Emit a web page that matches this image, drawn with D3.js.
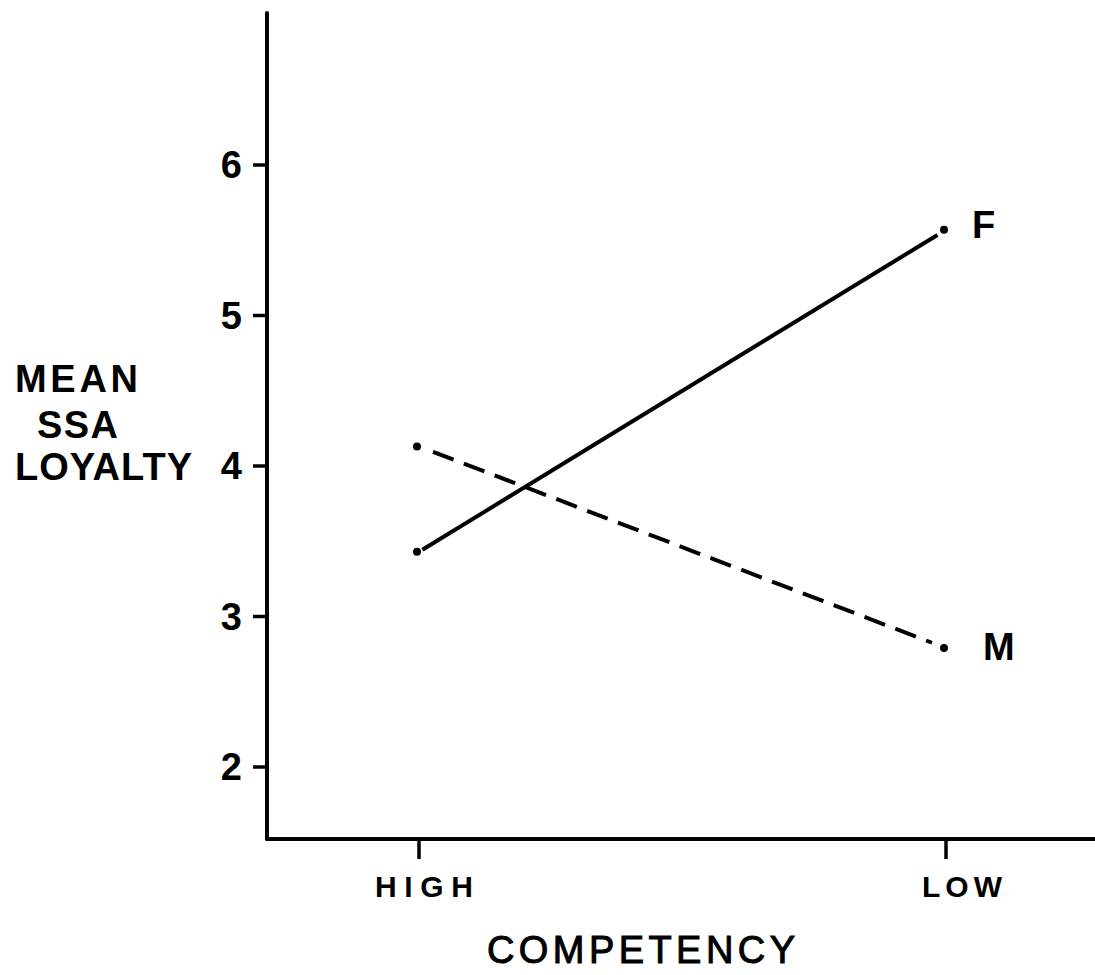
<!DOCTYPE html>
<html>
<head>
<meta charset="utf-8">
<script src="https://cdn.jsdelivr.net/npm/d3@7"></script>
<style>
  body { margin: 0; background: #fff; }
  text { font-family: "Liberation Sans", Arial, sans-serif; fill: #000; }
</style>
</head>
<body>
<div id="chart"></div>
<script>
// data
const levels = ["HIGH", "LOW"];
const femaleVals = [3.43, 5.57];
const maleVals = [4.13, 2.79];
const yTicks = [2, 3, 4, 5, 6];

const W = 1095, H = 975;

const svg = d3.select("#chart").append("svg")
    .attr("width", W)
    .attr("height", H);

// scales (axis origin at x=267, y=839)
const y = d3.scaleLinear()
    .domain([2, 6])
    .range([767, 165]);

const x = d3.scalePoint()
    .domain(levels)
    .range([419, 946]);

const x0 = 267, yBase = 839, yTop = 13;

// y axis line
svg.append("line")
    .attr("x1", x0).attr("x2", x0)
    .attr("y1", yTop).attr("y2", yBase)
    .attr("stroke", "#000").attr("stroke-width", 4)
    .attr("stroke-linecap", "round");

// x axis line
svg.append("line")
    .attr("x1", x0).attr("x2", W)
    .attr("y1", yBase).attr("y2", yBase)
    .attr("stroke", "#000").attr("stroke-width", 4)
    .attr("stroke-linecap", "round");

// y ticks + labels
const yt = svg.append("g");
yt.selectAll("line")
  .data(yTicks)
  .join("line")
    .attr("x1", x0 - 14).attr("x2", x0)
    .attr("y1", d => y(d)).attr("y2", d => y(d))
    .attr("stroke", "#000").attr("stroke-width", 3.5);
yt.selectAll("text")
  .data(yTicks)
  .join("text")
    .attr("x", 242)
    .attr("y", d => y(d) + 13)
    .attr("text-anchor", "end")
    .style("font-size", "38px")
    .style("font-weight", "bold")
    .text(d => d);

// x ticks + labels
const xt = svg.append("g");
xt.selectAll("line")
  .data(levels)
  .join("line")
    .attr("x1", d => x(d)).attr("x2", d => x(d))
    .attr("y1", yBase).attr("y2", yBase + 20)
    .attr("stroke", "#000").attr("stroke-width", 3.5);
xt.selectAll("text")
  .data(levels)
  .join("text")
    .attr("x", (d, i) => i == 0 ? 375 : 922)
    .attr("y", 897)
    .attr("textLength", (d, i) => i == 0 ? 98 : 80)
    .attr("lengthAdjust", "spacing")
    .style("font-size", "30px")
    .style("font-weight", "bold")
    .text(d => d);

// axis titles
const ylab = [["MEAN", 15, 392, 123], ["SSA", 37, 438, 81], ["LOYALTY", 15, 480, 177]];
svg.append("g").selectAll("text")
  .data(ylab)
  .join("text")
    .attr("x", d => d[1])
    .attr("y", d => d[2])
    .attr("textLength", d => d[3])
    .attr("lengthAdjust", "spacing")
    .style("font-size", "38px")
    .style("font-weight", "bold")
    .text(d => d[0]);

svg.append("text")
    .attr("x", 487)
    .attr("y", 963)
    .attr("textLength", 308)
    .attr("lengthAdjust", "spacing")
    .style("font-size", "38px")
    .style("stroke", "#000")
    .style("stroke-width", 1)
    .text("COMPETENCY");

// series lines, trimmed so the dots stand apart
function trimmed(vals, g0, g1) {
  const p0 = [x(levels[0]), y(vals[0])], p1 = [x(levels[1]), y(vals[1])];
  const dx = p1[0] - p0[0], dy = p1[1] - p0[1];
  const len = Math.sqrt(dx * dx + dy * dy);
  return [[p0[0] + dx / len * g0, p0[1] + dy / len * g0],
          [p1[0] - dx / len * g1, p1[1] - dy / len * g1]];
}

const line = d3.line();

svg.append("path")
    .attr("d", line(trimmed(femaleVals, 4, 10)))
    .attr("fill", "none")
    .attr("stroke", "#000")
    .attr("stroke-width", 4);

svg.append("path")
    .attr("d", line(trimmed(maleVals, 15, 15)))
    .attr("fill", "none")
    .attr("stroke", "#000")
    .attr("stroke-width", 4)
    .attr("stroke-dasharray", "22,11");

// end dots
const dots = [];
levels.forEach((l, i) => { dots.push([l, femaleVals[i]]); dots.push([l, maleVals[i]]); });
svg.append("g").selectAll("circle")
  .data(dots)
  .join("circle")
    .attr("cx", d => x(d[0]) - 2)
    .attr("cy", d => y(d[1]))
    .attr("r", 4)
    .attr("fill", "#000");

// series labels
svg.append("text")
    .attr("x", x("LOW") + 26)
    .attr("y", y(femaleVals[1]) + 8)
    .style("font-size", "38px")
    .style("font-weight", "bold")
    .text("F");

svg.append("text")
    .attr("x", x("LOW") + 37)
    .attr("y", y(maleVals[1]) + 12)
    .style("font-size", "38px")
    .style("font-weight", "bold")
    .text("M");
</script>
</body>
</html>
